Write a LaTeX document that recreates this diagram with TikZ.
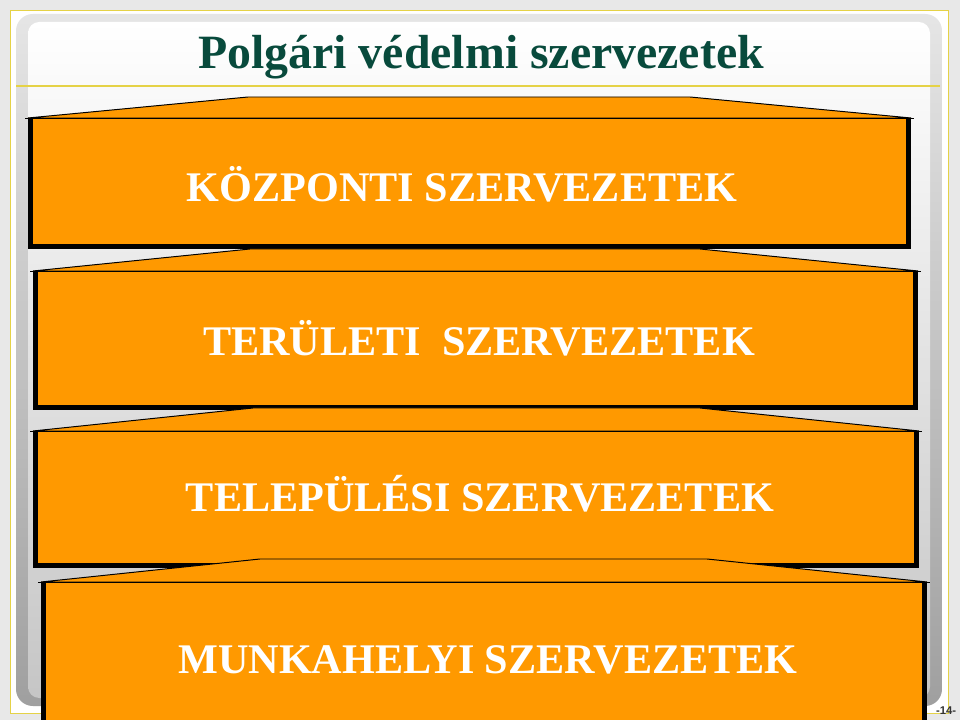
\documentclass[tikz,border=0pt]{standalone}
\usepackage{fontspec}
\setmainfont{Liberation Serif}
\setsansfont{Liberation Sans}
\definecolor{narancs}{RGB}{255,153,0}
\definecolor{sotetzold}{RGB}{8,74,60}
\definecolor{sarga}{RGB}{229,210,70}
\tikzset{felirat/.style={text=white, anchor=base, font=\bfseries\fontsize{30}{36}\selectfont}}

\begin{document}
\begin{tikzpicture}[x=0.025cm,y=-0.025cm]
        \useasboundingbox (0,0) rectangle (960,720);
        % slide background
        \fill[gray!18] (0,0) rectangle (960,720);
        \draw[sarga, fill=white, line width=0.6pt] (10,10) rectangle (948,713);
        \shade[top color=gray!20, bottom color=gray!75, rounded corners=12] (16,14) rectangle (942,706);
        \shade[top color=white, bottom color=gray!45, rounded corners=8] (28,22) rectangle (930,698);
        \draw[sarga, line width=2pt] (16,86) -- (940,86);
        \node[text=sotetzold, anchor=base, font=\bfseries\fontsize{34}{40}\selectfont] (cim) at (481,69) {Polgári védelmi szervezetek};
        \foreach \l/\r/\t/\b/\tl/\tr/\tt/\tx/\ty/\txt/\n in {
                33/906/118/244/248/690/97/462/202/KÖZPONTI SZERVEZETEK/1,
                38/913/271/405/250/700/249/479/356/TERÜLETI\ \ SZERVEZETEK/2,
                38/914/431/563/253/700/408/480/512/TELEPÜLÉSI SZERVEZETEK/3,
                46/922/582/725/260/707/559/488/673/MUNKAHELYI SZERVEZETEK/4}{
            \fill[black] (\l-5,\t) -- (\tl-10,\tt+4) -- (\tr+10,\tt+4) -- (\r+5,\t) -- cycle;
            \fill[black] (\l-5,\t) rectangle (\r+5,\b+5);
            \draw[fill=narancs, line width=0.7pt] (\l-5,\t) -- (\tl,\tt) -- (\tr,\tt) -- (\r+5,\t) -- cycle;
            \fill[narancs] (\l,\t) rectangle (\r,\b);
            \draw[line width=0.7pt] (\l-8,\t) -- (\r+8,\t);
            \node[felirat] (szint\n) at (\tx,\ty) {\txt};
        }
        \node[font=\sffamily\bfseries\fontsize{8}{9}\selectfont, text=black!80] (oldal) at (946,711) {-14-};
    \end{tikzpicture}
\end{document}
